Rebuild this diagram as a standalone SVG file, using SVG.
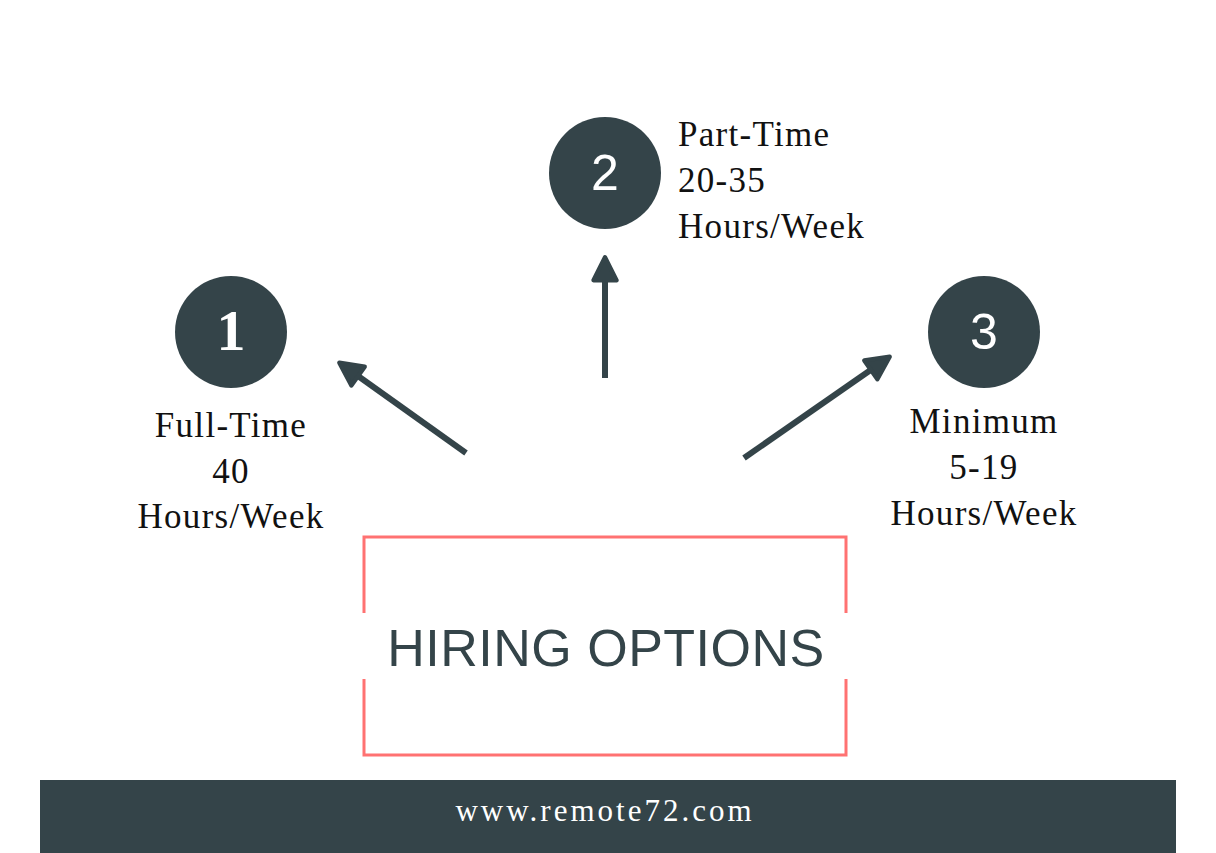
<svg xmlns="http://www.w3.org/2000/svg" width="1216" height="853" viewBox="0 0 1216 853">
<defs>
<style>
.circ{fill:#344449}
.num{fill:#ffffff;text-anchor:middle}
.ns{font-family:"Liberation Sans",sans-serif;font-size:50px}
.nr{font-family:"Liberation Serif",serif;font-size:58px;font-weight:bold}
.lbl{fill:#111111;font-family:"Liberation Serif",serif;font-size:35px;letter-spacing:1.3px}
.mid{text-anchor:middle}
.conn{stroke:#344449;stroke-width:6;fill:none}
.frame{stroke:#FF7272;stroke-width:3;fill:none}
</style>
<marker id="ah" viewBox="0 0 10 10" refX="7" refY="5" markerWidth="4.8" markerHeight="4.8" orient="auto" markerUnits="strokeWidth">
<path d="M1,1 L9,5 L1,9 Z" fill="#344449" stroke="#344449" stroke-width="1.5" stroke-linejoin="round"/>
</marker>
</defs>
<rect width="1216" height="853" fill="#ffffff"/>
<g id="connectors">
<line class="conn" x1="466" y1="453" x2="344" y2="366" marker-end="url(#ah)"/>
<line class="conn" x1="605" y1="378" x2="605" y2="263" marker-end="url(#ah)"/>
<line class="conn" x1="744" y1="458" x2="885" y2="360" marker-end="url(#ah)"/>
</g>
<g id="node1">
<circle class="circ" cx="231" cy="332" r="56"/>
<text class="num nr" x="231" y="350">1</text>
<text class="lbl mid" x="231" y="437">Full-Time</text>
<text class="lbl mid" x="231" y="483">40</text>
<text class="lbl mid" x="231" y="528">Hours/Week</text>
</g>
<g id="node2">
<circle class="circ" cx="605" cy="173" r="56"/>
<text class="num ns" x="605" y="190">2</text>
<text class="lbl" x="678" y="146">Part-Time</text>
<text class="lbl" x="678" y="192">20-35</text>
<text class="lbl" x="678" y="238">Hours/Week</text>
</g>
<g id="node3">
<circle class="circ" cx="984" cy="332" r="56"/>
<text class="num ns" x="984" y="349">3</text>
<text class="lbl mid" x="984" y="433">Minimum</text>
<text class="lbl mid" x="984" y="479">5-19</text>
<text class="lbl mid" x="984" y="525">Hours/Week</text>
</g>
<g id="title">
<path class="frame" d="M364,613 L364,537 L846,537 L846,613 M364,679 L364,755 L846,755 L846,679"/>
<text x="606" y="666" text-anchor="middle" font-family="Liberation Sans,sans-serif" font-size="52" fill="#344449" letter-spacing="0.5">HIRING OPTIONS</text>
</g>
<g id="footer">
<rect x="40" y="780" width="1136" height="73" fill="#344449"/>
<text x="605" y="821" text-anchor="middle" font-family="Liberation Serif,serif" font-size="31" fill="#ffffff" letter-spacing="3">www.remote72.com</text>
</g>
</svg>
